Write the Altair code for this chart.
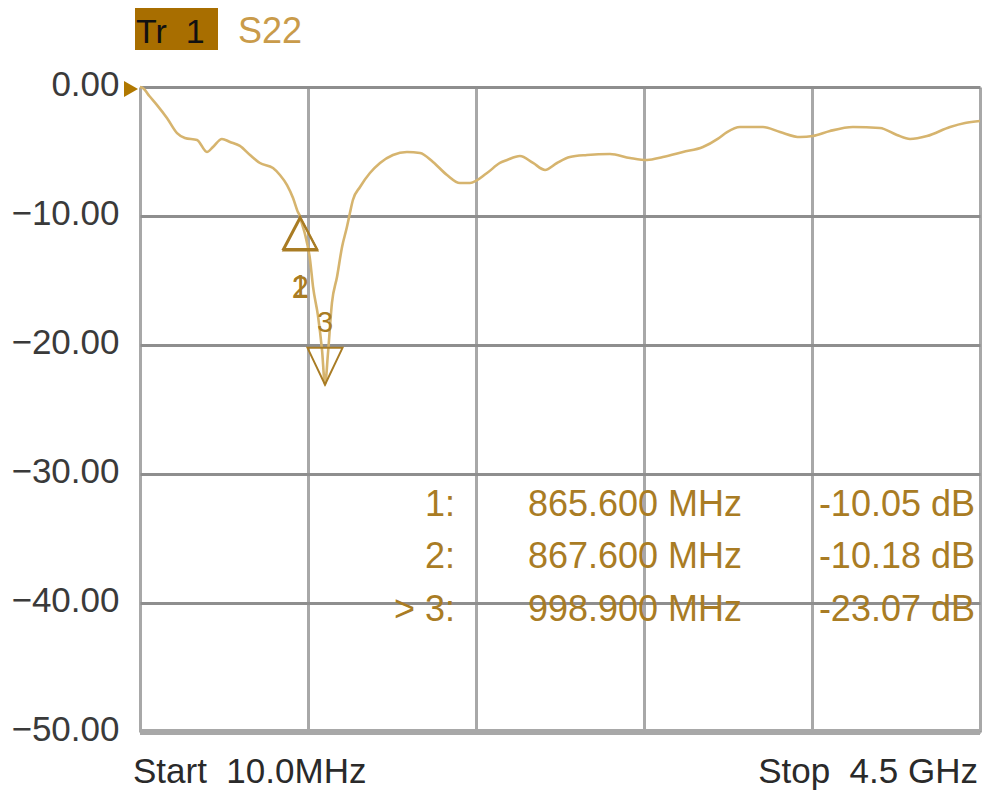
import altair as alt
import pandas as pd

# ---- data ----
freq_mhz = [10, 26, 60, 101, 154, 208, 250, 315, 368, 400,
            448, 491, 544, 598, 651, 721, 758, 796, 828, 854,
            865.6, 867.6, 890, 919, 935, 961, 983, 998.9, 1015, 1036,
            1063, 1090, 1116, 1132, 1148, 1186, 1239, 1293, 1362, 1437,
            1507, 1576, 1651, 1720, 1774, 1865, 1934, 1972, 2041, 2111,
            2175, 2239, 2308, 2399, 2522, 2629, 2720, 2805, 2912, 3019,
            3100, 3148, 3217, 3340, 3431, 3538, 3607, 3698, 3821, 3965,
            4056, 4126, 4217, 4340, 4420, 4500]
s22_db = [0, -0.08, -0.7, -1.40, -2.40, -3.57, -3.95, -4.11, -5.04, -4.65,
          -4.03, -4.26, -4.57, -5.27, -5.89, -6.28, -6.82, -7.60, -8.60, -9.69,
          -10.05, -10.18, -11.3, -13.4, -15.5, -17.7, -20.4, -23.07, -20.6, -16.74,
          -14.73, -12.40, -10.85, -9.77, -8.76, -7.75, -6.67, -5.89, -5.27, -5.04,
          -5.12, -5.81, -6.82, -7.44, -7.44, -6.67, -5.89, -5.66, -5.35, -5.89,
          -6.43, -5.89, -5.43, -5.27, -5.19, -5.50, -5.66, -5.43, -5.04, -4.65,
          -4.0, -3.49, -3.10, -3.10, -3.49, -3.88, -3.80, -3.41, -3.10, -3.18,
          -3.72, -4.03, -3.80, -3.10, -2.79, -2.64]

marker_ids = ["1", "2", "3"]
marker_freq = [865.6, 867.6, 998.9]
marker_db = [-10.05, -10.18, -23.07]
active_marker = "3"

y_ticks = [0, -10, -20, -30, -40, -50]
x_grid = [10, 908, 1806, 2704, 3602, 4500]
trace_name = "Tr\u00a0\u00a01"
param_name = "S22"
start_label = "Start\u00a0\u00a010.0MHz"
stop_label = "Stop\u00a0\u00a04.5 GHz"

# ---- styling ----
W, H = 840, 645
FONT = "Liberation Sans, Arial, sans-serif"
FS = 35
TRACE = "#d6b46e"
GOLD = "#a97c24"
GOLD_LIGHT = "#c99b4a"

trace = pd.DataFrame({"f": freq_mhz, "db": s22_db})
mk = pd.DataFrame({"id": marker_ids, "f": marker_freq, "db": marker_db})
mk["idtxt"] = [("> " if i == active_marker else "") + i + ":" for i in marker_ids]
mk["ftxt"] = [f"{v:.3f} MHz" for v in marker_freq]
mk["dbtxt"] = [f"{v:.2f} dB" for v in marker_db]

xs = alt.Scale(domain=[10, 4500], nice=False, zero=False)
ys = alt.Scale(domain=[-50, 0], nice=False, zero=False)

line = alt.Chart(trace).mark_line(color=TRACE, strokeWidth=2.6, interpolate="monotone").encode(
    x=alt.X("f:Q", scale=xs, axis=alt.Axis(values=x_grid, labels=False, ticks=False, domain=False,
                                            grid=True, gridColor="#a8a8a8", gridWidth=3, title=None)),
    y=alt.Y("db:Q", scale=ys, axis=alt.Axis(values=y_ticks, format=".2f", ticks=False, domain=False,
                                            grid=True, gridColor="#8e8e8e", gridWidth=3,
                                            labelFont=FONT, labelFontSize=FS, labelColor="#3a3a3a",
                                            labelPadding=21, labelOffset=-3, title=None)),
)

bottom = alt.Chart(pd.DataFrame({"y": [y_ticks[-1]]})).mark_rule(color="#a8a8a8", strokeWidth=6).encode(
    y=alt.Y("y:Q", scale=ys)
)

up_path = "M0,0L-1,1.9L1,1.9Z"
down_path = "M0,0L-1,-2.1L1,-2.1Z"

mk12 = alt.Chart(mk).transform_filter(alt.datum.id != active_marker)
mk3 = alt.Chart(mk).transform_filter(alt.datum.id == active_marker)

sym12 = mk12.mark_point(shape=up_path, size=1156, filled=False, color=GOLD, strokeWidth=2, opacity=1).encode(
    x=alt.X("f:Q", scale=xs), y=alt.Y("db:Q", scale=ys))
sym3 = mk3.mark_point(shape=down_path, size=1225, filled=False, color=GOLD, strokeWidth=2, opacity=1).encode(
    x=alt.X("f:Q", scale=xs), y=alt.Y("db:Q", scale=ys))
lab12 = mk12.mark_text(font=FONT, fontSize=31, color=GOLD, dy=71, baseline="middle", align="center").encode(
    x=alt.X("f:Q", scale=xs), y=alt.Y("db:Q", scale=ys), text="id:N")
lab3 = mk3.mark_text(font=FONT, fontSize=29, color=GOLD, dy=-62, baseline="middle", align="center").encode(
    x=alt.X("f:Q", scale=xs), y=alt.Y("db:Q", scale=ys), text="id:N")

row_y = [418, 470, 523]
table = []
for i, mid in enumerate(marker_ids):
    sub = alt.Chart(mk).transform_filter(alt.datum.id == mid)
    for field, xpos in (("idtxt", 315), ("ftxt", 602), ("dbtxt", 835)):
        table.append(sub.mark_text(font=FONT, fontSize=36, color=GOLD, align="right", baseline="middle").encode(
            x=alt.value(xpos), y=alt.value(row_y[i]), text=f"{field}:N"))

ref = alt.Chart(pd.DataFrame({"t": [0]})).mark_point(shape="triangle-right", filled=True, size=260,
                                                     color="#b07800", opacity=1).encode(
    x=alt.value(-9), y=alt.value(2))

hdr = pd.DataFrame({"tr": [trace_name], "sp": [param_name], "start": [start_label], "stop": [stop_label]})
box = alt.Chart(hdr).mark_rect(color="#a86e00").encode(
    x=alt.value(-5), x2=alt.value(78), y=alt.value(-79), y2=alt.value(-37))
tr_txt = alt.Chart(hdr).mark_text(font=FONT, fontSize=34, color="#111111", align="left", baseline="alphabetic").encode(
    x=alt.value(-4), y=alt.value(-44), text="tr:N")
sp_txt = alt.Chart(hdr).mark_text(font=FONT, fontSize=36, color=GOLD_LIGHT, align="left", baseline="alphabetic").encode(
    x=alt.value(98), y=alt.value(-44), text="sp:N")
start_txt = alt.Chart(hdr).mark_text(font=FONT, fontSize=FS, color="#2a2a2a", align="left", baseline="alphabetic").encode(
    x=alt.value(-7), y=alt.value(696), text="start:N")
stop_txt = alt.Chart(hdr).mark_text(font=FONT, fontSize=FS, color="#2a2a2a", align="right", baseline="alphabetic").encode(
    x=alt.value(838), y=alt.value(696), text="stop:N")

chart = alt.layer(
    bottom, line, sym12, sym3, lab12, lab3, *table, ref, box, tr_txt, sp_txt, start_txt, stop_txt
).properties(
    width=W, height=H,
    autosize=alt.AutoSizeParams(type="none"),
    padding={"left": 132, "top": 79, "right": 12, "bottom": 58},
    background="white",
).configure_view(stroke=None)

chart.save("out.html", embed_options={"renderer": "svg", "actions": False})
